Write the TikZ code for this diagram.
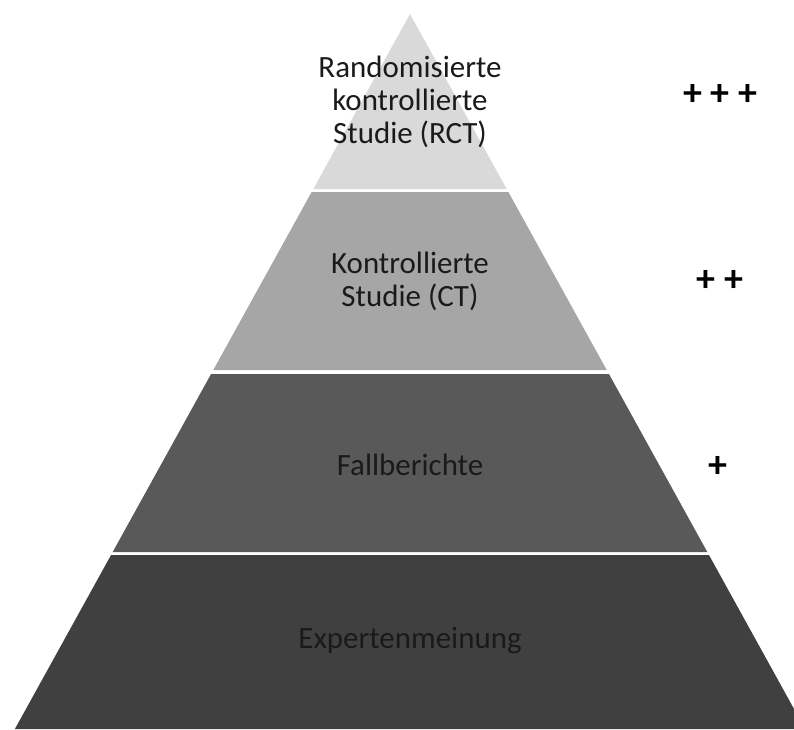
\documentclass[tikz,border=0pt]{standalone}
\usepackage{fontspec}
\setmainfont{Carlito}
\usepackage{xcolor}
\definecolor{bandA}{HTML}{D9D9D9}
\definecolor{bandB}{HTML}{A6A6A6}
\definecolor{bandC}{HTML}{595959}
\definecolor{bandD}{HTML}{404040}
\definecolor{ink}{HTML}{1A1A1A}

\begin{document}
\begin{tikzpicture}[
  x=0.025cm, y=-0.025cm,
  level/.style={align=center, text=ink, font=\fontsize{22}{23.6}\selectfont, inner sep=0pt},
  grade/.style={font=\bfseries\fontsize{27}{30}\selectfont, inner sep=0pt},
]
\useasboundingbox (0,0) rectangle (794,729);
\clip (0,0) rectangle (794,729);

  % Bands (apex at 410/14, slope 0.5526)
  \coordinate (apex) at (410,14);
  \fill[bandA] (apex) -- ({410+0.5526*175},189) -- ({410-0.5526*175},189) -- cycle;
  \foreach \top/\bot/\col in {192/370/bandB, 374/552/bandC, 555/729/bandD}{
    \fill[\col] ({410-0.5526*(\top-14)},\top) -- ({410+0.5526*(\top-14)},\top)
      -- ({410+0.5526*(\bot-14)},\bot) -- ({410-0.5526*(\bot-14)},\bot) -- cycle;
  }

  % Labels
  \node[level] (rct) at (410,102) {Randomisierte\\kontrollierte\\Studie (RCT)};
  \node[level] (ct)  at (410,281) {Kontrollierte\\Studie (CT)};
  \node[level] (fb)  at (410,465) {Fallberichte};
  \node[level] (exp) at (410,641) {Expertenmeinung};

  % Evidence grades
  \node[grade] (g3) at (720,95)  {+ + +};
  \node[grade] (g2) at (720,281) {+ +};
  \node[grade] (g1) at (718,467) {+};
\end{tikzpicture}
\end{document}
